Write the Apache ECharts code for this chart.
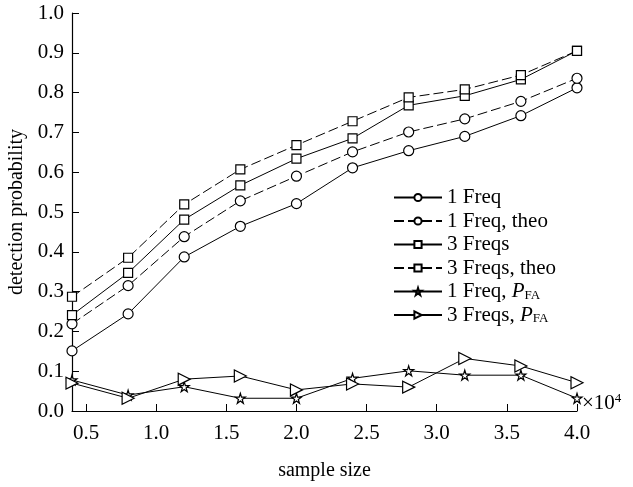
<!DOCTYPE html>
<html>
<head>
<meta charset="utf-8">
<script src="https://cdn.jsdelivr.net/npm/echarts@6/dist/echarts.min.js"></script>
<style>
html,body{margin:0;padding:0;background:#fff;}
#main{width:633px;height:487px;}
</style>
</head>
<body>
<div id="main"></div>
<script>
// sample size, x 10^4
let sizes = [0.4, 0.8, 1.2, 1.6, 2.0, 2.4, 2.8, 3.2, 3.6, 4.0];
let xTicks = [0.5, 1.0, 1.5, 2.0, 2.5, 3.0, 3.5, 4.0];

let oneFreq = [0.151, 0.244, 0.387, 0.464, 0.521, 0.611, 0.654, 0.690, 0.742, 0.812];
let oneFreqTheo = [0.219, 0.315, 0.438, 0.528, 0.590, 0.651, 0.701, 0.734, 0.778, 0.836];
let threeFreqs = [0.241, 0.347, 0.481, 0.567, 0.634, 0.685, 0.768, 0.792, 0.833, 0.905];
let threeFreqsTheo = [0.287, 0.385, 0.519, 0.607, 0.668, 0.728, 0.788, 0.808, 0.844, 0.905];
let oneFreqPfa = [0.078, 0.040, 0.061, 0.032, 0.032, 0.082, 0.101, 0.090, 0.090, 0.032];
let threeFreqsPfa = [0.070, 0.032, 0.080, 0.088, 0.053, 0.068, 0.060, 0.132, 0.113, 0.071];

let font = "Liberation Serif";
let star = 'path://M50,0 L61,35 L98,35 L68,57 L79,91 L50,70 L21,91 L32,57 L2,35 L39,35 Z';

function pairs(ys){
	return sizes.map(function(x,i){ return [x, ys[i]]; });
}

function mk(name, ys, symbol, dashed, size, rotate){
	return {
		name: name,
		type: 'line',
		data: pairs(ys),
		symbol: symbol,
		symbolSize: size,
		symbolRotate: rotate || 0,
		showAllSymbol: true,
		animation: false,
		lineStyle: {color: '#000', width: 1, type: dashed ? [10, 4] : 'solid'},
		itemStyle: {color: '#fff', borderColor: '#000', borderWidth: 1.2}
	};
}

var myChart = echarts.init(document.getElementById('main'));

var option = {
	backgroundColor: '#fff',
	textStyle: {fontFamily: font},
	grid: {left: 72, right: 56, top: 13, bottom: 76, outerBoundsMode: 'none', containLabel: false},
	legend: {
		orient: 'vertical',
		left: 388,
		top: 182,
		itemWidth: 48,
		itemHeight: 9,
		itemGap: 2.5,
		textStyle: {
			fontFamily: font, fontSize: 21, color: '#000', lineHeight: 21,
			rich: {
				p: {fontFamily: font, fontSize: 21, fontStyle: 'italic', color: '#000'},
				s: {fontFamily: font, fontSize: 13, color: '#000', verticalAlign: 'bottom', padding: [9, 0, 0, 0]}
			}
		},
		formatter: function(name){
			if(name.indexOf('PFA') >= 0){
				return name.replace('PFA', '') + '{p|P}{s|FA}';
			}
			return name;
		},
		data: ['1 Freq', '1 Freq, theo', '3 Freqs', '3 Freqs, theo', '1 Freq, PFA', '3 Freqs, PFA']
	},
	xAxis: {
		type: 'value',
		min: 0.4,
		max: 4.0,
		name: 'sample size',
		nameLocation: 'middle',
		nameGap: 50,
		nameTextStyle: {fontFamily: font, fontSize: 20, color: '#000'},
		splitLine: {show: false},
		axisLine: {lineStyle: {color: '#000', width: 1.2}},
		axisTick: {inside: true, length: 7, customValues: xTicks, lineStyle: {color: '#000'}},
		axisLabel: {
			customValues: xTicks, color: '#000', fontFamily: font, fontSize: 21, margin: 12,
			formatter: function(v){ return v.toFixed(1); }
		}
	},
	yAxis: {
		type: 'value',
		min: 0,
		max: 1,
		interval: 0.1,
		name: 'detection probability',
		nameLocation: 'middle',
		nameGap: 39,
		nameTextStyle: {fontFamily: font, fontSize: 20, color: '#000'},
		splitLine: {show: false},
		axisLine: {show: true, lineStyle: {color: '#000', width: 1.2}},
		axisTick: {show: true, inside: true, length: 7, lineStyle: {color: '#000'}},
		axisLabel: {
			color: '#000', fontFamily: font, fontSize: 21, margin: 8,
			formatter: function(v){ return v.toFixed(1); }
		}
	},
	graphic: [{
		type: 'text',
		left: 582,
		top: 392,
		style: {
			text: '×10{e|4}',
			font: '21px "Liberation Serif"',
			fill: '#000',
			rich: {e: {fontSize: 13, fontFamily: font, verticalAlign: 'top', padding: [0, 0, 10, 0]}}
		}
	}],
	series: [
		mk('1 Freq', oneFreq, 'circle', false, 10),
		mk('1 Freq, theo', oneFreqTheo, 'circle', true, 10),
		mk('3 Freqs', threeFreqs, 'rect', false, 9),
		mk('3 Freqs, theo', threeFreqsTheo, 'rect', true, 9),
		mk('1 Freq, PFA', oneFreqPfa, star, false, 10),
		mk('3 Freqs, PFA', threeFreqsPfa, 'triangle', false, 12, -90)
	]
};

myChart.setOption(option);
</script>
</body>
</html>
